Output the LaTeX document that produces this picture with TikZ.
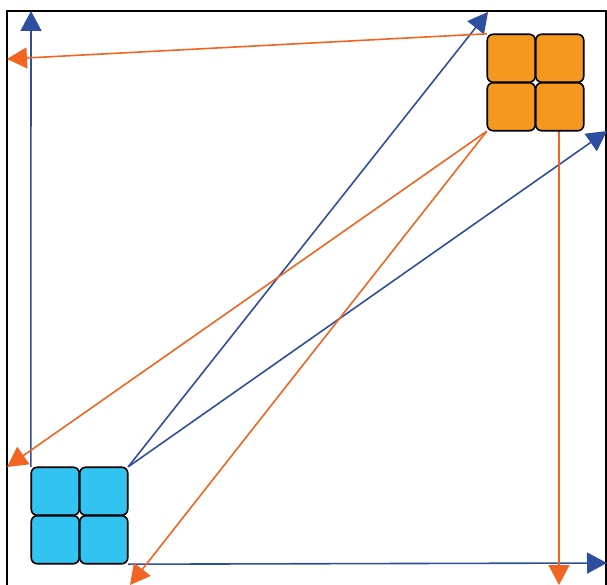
\documentclass[tikz,border=0pt]{standalone}
\usetikzlibrary{arrows.meta}
\definecolor{lineblue}{RGB}{46,78,160}
\definecolor{lineorange}{RGB}{242,100,34}
\definecolor{tileblue}{RGB}{50,195,240}
\definecolor{tileorange}{RGB}{244,152,32}
\tikzset{
  tile/.style={draw=black, line width=1.6pt, rounded corners=6pt, minimum size=48pt, inner sep=0pt},
  group/.style={minimum size=97pt, inner sep=0pt},
  bluearrow/.style={draw=lineblue, line width=1.6pt, -{Triangle[length=20pt,width=21pt]}},
  orangearrow/.style={draw=lineorange, line width=1.6pt, -{Triangle[length=20pt,width=21pt]}},
}
\begin{document}
\begin{tikzpicture}[x=1pt,y=-1pt]
\useasboundingbox (0,0) rectangle (607,585);
\clip (0,0) rectangle (607,585);
% frame
\draw[line width=1.5pt] (7,600) -- (7,11) -- (606,11) -- (606,600);
% groups
\node[group] (B) at (79.5,515.5) {};
\node[group] (O) at (535.5,82.5) {};
% arrow end points
\coordinate (bt) at (31,11);
\coordinate (bn) at (488,12);
\coordinate (be) at (607,131);
\coordinate (br) at (607,563);
\coordinate (ol) at (7,59);
\coordinate (ow) at (7,467);
\coordinate (os) at (130,585);
\coordinate (od) at (559,585);
\coordinate (ob) at (559,131);
% blue arrows
\draw[bluearrow] (B.north west) -- (bt);
\draw[bluearrow] (B.north east) -- (bn);
\draw[bluearrow] (B.north east) -- (be);
\draw[bluearrow] (B.south east) -- (br);
% orange arrows
\draw[orangearrow] (O.north west) -- (ol);
\draw[orangearrow] (O.south west) -- (ow);
\draw[orangearrow] (O.south west) -- (os);
\draw[orangearrow] (ob) -- (od);
% tiles
\node[tile, fill=tileblue] (b1) at (55.25,491.25) {};
\node[tile, fill=tileblue] (b2) at (103.75,491.25) {};
\node[tile, fill=tileblue] (b3) at (55.25,539.75) {};
\node[tile, fill=tileblue] (b4) at (103.75,539.75) {};
\node[tile, fill=tileorange] (o1) at (511.25,58.25) {};
\node[tile, fill=tileorange] (o2) at (559.75,58.25) {};
\node[tile, fill=tileorange] (o3) at (511.25,106.75) {};
\node[tile, fill=tileorange] (o4) at (559.75,106.75) {};
\end{tikzpicture}
\end{document}
